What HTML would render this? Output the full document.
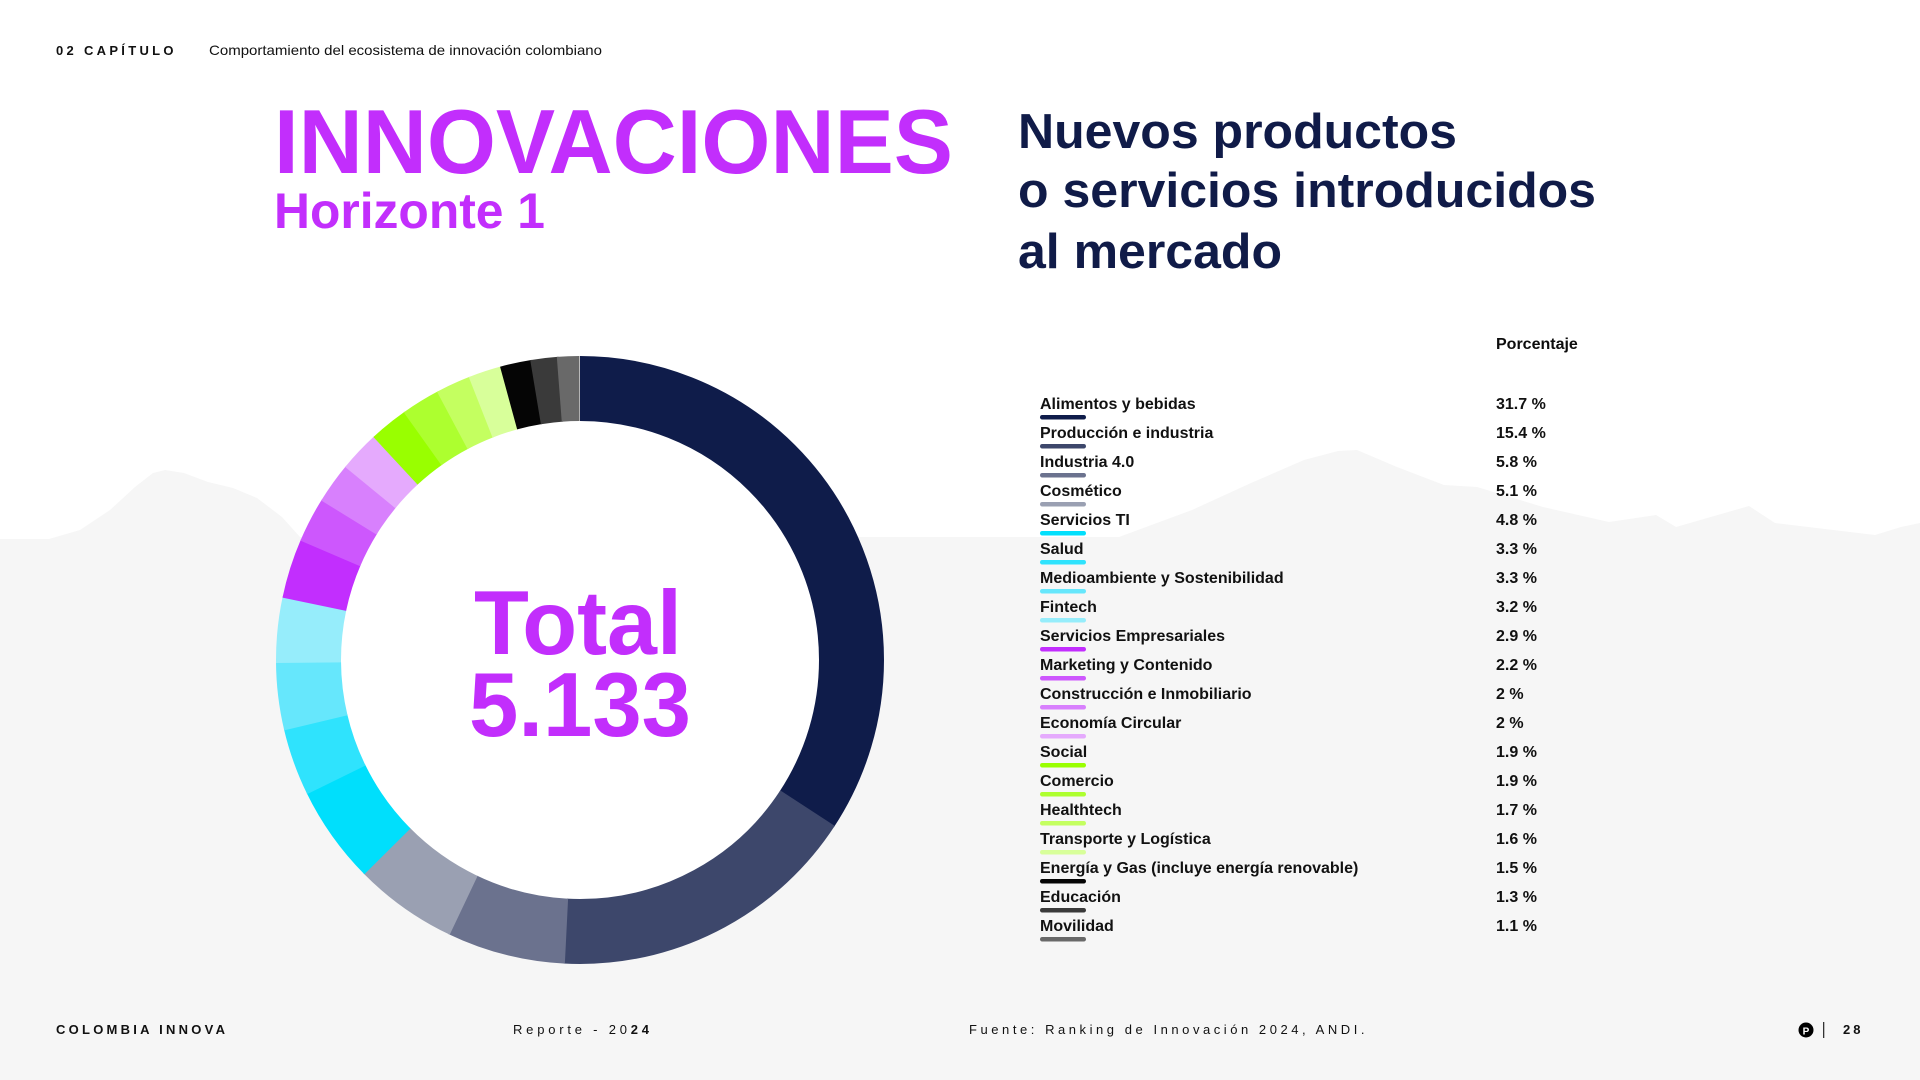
<!DOCTYPE html>
<html>
<head>
<meta charset="utf-8">
<style>
html,body{margin:0;padding:0;background:#fff;}
body{width:1920px;height:1080px;overflow:hidden;}
svg{display:block;font-family:"Liberation Sans",Arial,sans-serif;}
</style>
</head>
<body>
<svg width="1920" height="1080" viewBox="0 0 1920 1080" xmlns="http://www.w3.org/2000/svg">
  <rect x="0" y="0" width="1920" height="1080" fill="#ffffff"/>
  <!-- mountain background -->
  <polygon fill="#f6f6f6" points="0,539 49,539 80,530 110,510 135,487 153,473 165,470 184,473 208,482 233,488 257,498 282,517 300,537 880,537 1119,537 1192,510 1251,483 1304,460 1338,451 1357,450 1397,467 1444,485 1477,487 1543,507 1609,522 1656,515 1676,527 1749,506 1775,523 1875,535 1901,527 1920,523 1920,1080 0,1080"/>

  <!-- header -->
  <text x="56" y="55" font-size="13" font-weight="bold" fill="#111" letter-spacing="3.5" textLength="121">02 CAPÍTULO</text>
  <text x="209" y="55" font-size="14" fill="#111" textLength="393" lengthAdjust="spacingAndGlyphs">Comportamiento del ecosistema de innovación colombiano</text>

  <!-- left title -->
  <text x="274" y="173" font-size="91" font-weight="bold" fill="#c22efc" textLength="679" lengthAdjust="spacingAndGlyphs">INNOVACIONES</text>
  <text x="274" y="228" font-size="50" font-weight="bold" fill="#c22efc" textLength="271" lengthAdjust="spacingAndGlyphs">Horizonte 1</text>

  <!-- right title -->
  <g font-size="49" font-weight="bold" fill="#101b48">
    <text x="1018" y="148" textLength="439" lengthAdjust="spacingAndGlyphs">Nuevos productos</text>
    <text x="1018" y="207" textLength="578" lengthAdjust="spacingAndGlyphs">o servicios introducidos</text>
    <text x="1018" y="268" textLength="264" lengthAdjust="spacingAndGlyphs">al mercado</text>
  </g>

  <!-- donut -->
  <circle cx="580" cy="660" r="240" fill="#ffffff"/>
  <g fill="none" stroke-width="65" transform="rotate(-90 580 660)">
    <circle cx="580" cy="660" r="271.5" pathLength="92.7" stroke="#0f1c4a" stroke-dasharray="31.78 200" stroke-dashoffset="0"/>
    <circle cx="580" cy="660" r="271.5" pathLength="92.7" stroke="#3d476b" stroke-dasharray="15.48 200" stroke-dashoffset="-31.7"/>
    <circle cx="580" cy="660" r="271.5" pathLength="92.7" stroke="#6b728e" stroke-dasharray="5.88 200" stroke-dashoffset="-47.1"/>
    <circle cx="580" cy="660" r="271.5" pathLength="92.7" stroke="#9aa0b2" stroke-dasharray="5.18 200" stroke-dashoffset="-52.9"/>
    <circle cx="580" cy="660" r="271.5" pathLength="92.7" stroke="#00dffc" stroke-dasharray="4.88 200" stroke-dashoffset="-58"/>
    <circle cx="580" cy="660" r="271.5" pathLength="92.7" stroke="#2fe3fd" stroke-dasharray="3.38 200" stroke-dashoffset="-62.8"/>
    <circle cx="580" cy="660" r="271.5" pathLength="92.7" stroke="#66e7fc" stroke-dasharray="3.38 200" stroke-dashoffset="-66.1"/>
    <circle cx="580" cy="660" r="271.5" pathLength="92.7" stroke="#96edfb" stroke-dasharray="3.28 200" stroke-dashoffset="-69.4"/>
    <circle cx="580" cy="660" r="271.5" pathLength="92.7" stroke="#c22efe" stroke-dasharray="2.98 200" stroke-dashoffset="-72.6"/>
    <circle cx="580" cy="660" r="271.5" pathLength="92.7" stroke="#cd57fd" stroke-dasharray="2.28 200" stroke-dashoffset="-75.5"/>
    <circle cx="580" cy="660" r="271.5" pathLength="92.7" stroke="#d880fd" stroke-dasharray="2.08 200" stroke-dashoffset="-77.7"/>
    <circle cx="580" cy="660" r="271.5" pathLength="92.7" stroke="#e5aafd" stroke-dasharray="2.08 200" stroke-dashoffset="-79.7"/>
    <circle cx="580" cy="660" r="271.5" pathLength="92.7" stroke="#99ff00" stroke-dasharray="1.98 200" stroke-dashoffset="-81.7"/>
    <circle cx="580" cy="660" r="271.5" pathLength="92.7" stroke="#adff2f" stroke-dasharray="1.98 200" stroke-dashoffset="-83.6"/>
    <circle cx="580" cy="660" r="271.5" pathLength="92.7" stroke="#c4ff60" stroke-dasharray="1.78 200" stroke-dashoffset="-85.5"/>
    <circle cx="580" cy="660" r="271.5" pathLength="92.7" stroke="#d8ff9a" stroke-dasharray="1.68 200" stroke-dashoffset="-87.2"/>
    <circle cx="580" cy="660" r="271.5" pathLength="92.7" stroke="#050505" stroke-dasharray="1.58 200" stroke-dashoffset="-88.8"/>
    <circle cx="580" cy="660" r="271.5" pathLength="92.7" stroke="#3a3a3a" stroke-dasharray="1.38 200" stroke-dashoffset="-90.3"/>
    <circle cx="580" cy="660" r="271.5" pathLength="92.7" stroke="#696969" stroke-dasharray="1.1 200" stroke-dashoffset="-91.6"/>
  </g>
  <text x="578" y="654" font-size="91" font-weight="bold" fill="#c22efc" text-anchor="middle" textLength="208" lengthAdjust="spacingAndGlyphs">Total</text>
  <text x="580" y="736" font-size="91" font-weight="bold" fill="#c22efc" text-anchor="middle" textLength="222" lengthAdjust="spacingAndGlyphs">5.133</text>

  <!-- legend -->
  <text x="1496" y="349" font-size="16" font-weight="bold" fill="#0d0d0d">Porcentaje</text>
  <g font-size="16" font-weight="bold" fill="#111">
    <text x="1040" y="409">Alimentos y bebidas</text><text x="1496" y="409">31.7 %</text>
    <text x="1040" y="438">Producción e industria</text><text x="1496" y="438">15.4 %</text>
    <text x="1040" y="467">Industria 4.0</text><text x="1496" y="467">5.8 %</text>
    <text x="1040" y="496">Cosmético</text><text x="1496" y="496">5.1 %</text>
    <text x="1040" y="525">Servicios TI</text><text x="1496" y="525">4.8 %</text>
    <text x="1040" y="554">Salud</text><text x="1496" y="554">3.3 %</text>
    <text x="1040" y="583">Medioambiente y Sostenibilidad</text><text x="1496" y="583">3.3 %</text>
    <text x="1040" y="612">Fintech</text><text x="1496" y="612">3.2 %</text>
    <text x="1040" y="641">Servicios Empresariales</text><text x="1496" y="641">2.9 %</text>
    <text x="1040" y="670">Marketing y Contenido</text><text x="1496" y="670">2.2 %</text>
    <text x="1040" y="699">Construcción e Inmobiliario</text><text x="1496" y="699">2 %</text>
    <text x="1040" y="728">Economía Circular</text><text x="1496" y="728">2 %</text>
    <text x="1040" y="757">Social</text><text x="1496" y="757">1.9 %</text>
    <text x="1040" y="786">Comercio</text><text x="1496" y="786">1.9 %</text>
    <text x="1040" y="815">Healthtech</text><text x="1496" y="815">1.7 %</text>
    <text x="1040" y="844">Transporte y Logística</text><text x="1496" y="844">1.6 %</text>
    <text x="1040" y="873">Energía y Gas (incluye energía renovable)</text><text x="1496" y="873">1.5 %</text>
    <text x="1040" y="902">Educación</text><text x="1496" y="902">1.3 %</text>
    <text x="1040" y="931">Movilidad</text><text x="1496" y="931">1.1 %</text>
  </g>
  <g>
    <rect x="1040" y="415" width="46" height="4.5" rx="2.2" fill="#0f1c4a"/>
    <rect x="1040" y="444" width="46" height="4.5" rx="2.2" fill="#3d476b"/>
    <rect x="1040" y="473" width="46" height="4.5" rx="2.2" fill="#6b728e"/>
    <rect x="1040" y="502" width="46" height="4.5" rx="2.2" fill="#9aa0b2"/>
    <rect x="1040" y="531" width="46" height="4.5" rx="2.2" fill="#00dffc"/>
    <rect x="1040" y="560" width="46" height="4.5" rx="2.2" fill="#2fe3fd"/>
    <rect x="1040" y="589" width="46" height="4.5" rx="2.2" fill="#66e7fc"/>
    <rect x="1040" y="618" width="46" height="4.5" rx="2.2" fill="#96edfb"/>
    <rect x="1040" y="647" width="46" height="4.5" rx="2.2" fill="#c22efe"/>
    <rect x="1040" y="676" width="46" height="4.5" rx="2.2" fill="#cd57fd"/>
    <rect x="1040" y="705" width="46" height="4.5" rx="2.2" fill="#d880fd"/>
    <rect x="1040" y="734" width="46" height="4.5" rx="2.2" fill="#e5aafd"/>
    <rect x="1040" y="763" width="46" height="4.5" rx="2.2" fill="#99ff00"/>
    <rect x="1040" y="792" width="46" height="4.5" rx="2.2" fill="#adff2f"/>
    <rect x="1040" y="821" width="46" height="4.5" rx="2.2" fill="#c4ff60"/>
    <rect x="1040" y="850" width="46" height="4.5" rx="2.2" fill="#d8ff9a"/>
    <rect x="1040" y="879" width="46" height="4.5" rx="2.2" fill="#050505"/>
    <rect x="1040" y="908" width="46" height="4.5" rx="2.2" fill="#3a3a3a"/>
    <rect x="1040" y="937" width="46" height="4.5" rx="2.2" fill="#696969"/>
  </g>

  <!-- footer -->
  <text x="56" y="1034" font-size="13" font-weight="bold" fill="#111" letter-spacing="3" textLength="172">COLOMBIA INNOVA</text>
  <text x="513" y="1034" font-size="13" fill="#111" letter-spacing="3" textLength="139">Reporte - 20<tspan font-weight="bold">24</tspan></text>
  <text x="969" y="1034" font-size="13" fill="#111" letter-spacing="2.5" textLength="398">Fuente: Ranking de Innovación 2024, ANDI.</text>
  <circle cx="1806" cy="1030" r="7.5" fill="#000"/>
  <text x="1806" y="1034.5" font-size="10" font-weight="bold" fill="#fff" text-anchor="middle">P</text>
  <rect x="1823" y="1022" width="1.3" height="16" fill="#333"/>
  <text x="1843" y="1034" font-size="13" font-weight="bold" fill="#111" letter-spacing="3">28</text>
</svg>
</body>
</html>
